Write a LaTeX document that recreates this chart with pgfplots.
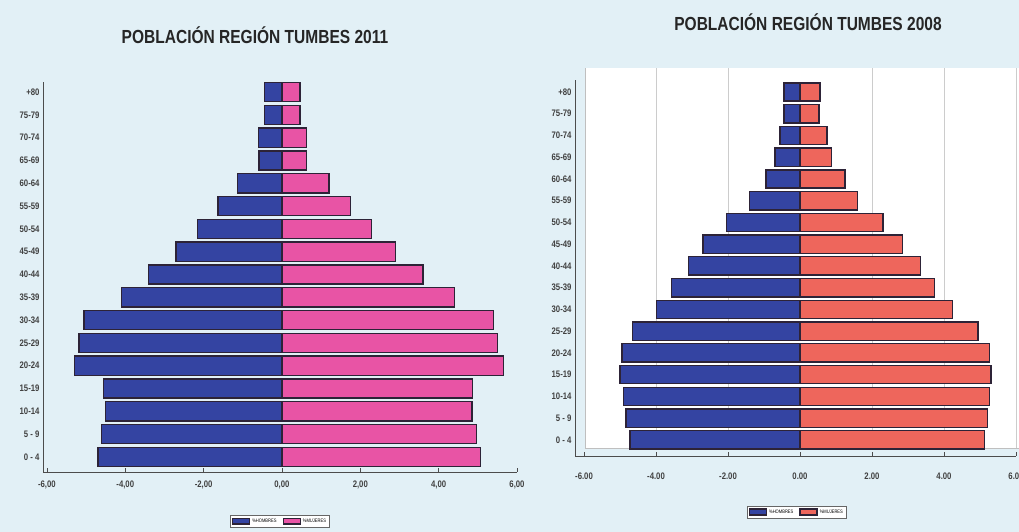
\documentclass[border=0pt]{standalone}
\usepackage{pgfplots}
\usepackage{pgfplotstable}
\pgfplotsset{compat=1.18}
\usepackage{fontspec}
\setmainfont{Liberation Sans}
\newfontfamily\narrow[FakeStretch=0.82]{Liberation Sans}

\definecolor{fondo}{RGB}{226,240,246}
\definecolor{hombre}{RGB}{52,68,162}
\definecolor{mujer11}{RGB}{232,84,165}
\definecolor{mujer08}{RGB}{238,102,92}
\definecolor{borde}{RGB}{45,35,55}

% grupos de edad: 0 = 0-4 ... 16 = +80 ; hombres en negativo
\pgfplotstableread{
g h m
0 -4.70 5.07
1 -4.60 4.97
2 -4.50 4.85
3 -4.56 4.87
4 -5.30 5.65
5 -5.18 5.50
6 -5.05 5.40
7 -4.10 4.40
8 -3.40 3.60
9 -2.70 2.90
10 -2.15 2.28
11 -1.63 1.75
12 -1.13 1.20
13 -0.59 0.62
14 -0.60 0.62
15 -0.44 0.46
16 -0.44 0.46
}\pobA

\pgfplotstableread{
g h m
0 -4.72 5.13
1 -4.83 5.20
2 -4.90 5.27
3 -5.00 5.30
4 -4.94 5.27
5 -4.66 4.94
6 -3.98 4.24
7 -3.57 3.74
8 -3.10 3.35
9 -2.70 2.85
10 -2.05 2.30
11 -1.40 1.60
12 -0.95 1.25
13 -0.70 0.88
14 -0.56 0.75
15 -0.45 0.53
16 -0.45 0.55
}\pobB

\pgfplotsset{
  piramide/.style={
    scale only axis,
    anchor=south west,
    xbar, bar shift=0pt, bar width=0.84,
    xmax=6,
    xtick={-6,-4,...,6},
    ytick={0,...,16},
    yticklabels={0 - 4,5 - 9,10-14,15-19,20-24,25-29,30-34,35-39,40-44,45-49,50-54,55-59,60-64,65-69,70-74,75-79,+80},
    axis x line*=bottom, axis y line*=left,
    axis line style={black!70, line width=0.8bp},
    tick style={black!70, line width=0.6bp},
    major tick length=4bp,
    tick align=inside,
    ytick style={draw=none},
    tick label style={font=\narrow\bfseries\fontsize{9.5}{10}\selectfont, text=black!75},
    every axis plot/.append style={draw=borde, line width=1.4bp},
    legend columns=2,
    legend cell align=left,
    area legend,
    legend style={font=\narrow\fontsize{5}{5}\selectfont, draw=black!60, fill=white,
      inner sep=1.5pt, /tikz/every even column/.append style={column sep=4pt}},
    clip=false,
  }
}

\begin{document}
\begin{tikzpicture}[x=1bp,y=1bp]
\fill[fondo] (0,0) rectangle (1019,532);
\useasboundingbox (0,0) rectangle (1019,532);

\node[font=\narrow\bfseries\fontsize{19}{19}\selectfont, text=black!85] at (255,497) {POBLACIÓN REGIÓN TUMBES 2011};
\node[font=\narrow\bfseries\fontsize{19}{19}\selectfont, text=black!85] at (808,510) {POBLACIÓN REGIÓN TUMBES 2008};

% 2011
\begin{axis}[piramide,
  at={(43bp,60bp)}, width=474bp, height=390bp,
  xmin=-6.1,
  ymin=-0.66, ymax=16.44,
  xticklabels={{-6,00},{-4,00},{-2,00},{0,00},{2,00},{4,00},{6,00}},
  xticklabel style={yshift=-5bp},
  legend style={at={(0.5,-0.126)}, anchor=center},
]
\addplot[fill=hombre] table[x=h, y=g] {\pobA};
\addplot[fill=mujer11] table[x=m, y=g] {\pobA};
\legend{\%HOMBRES, \%MUJERES}
\end{axis}

% 2008
\begin{axis}[piramide,
  at={(575bp,76bp)}, width=441bp, height=376bp,
  xmin=-6.25,
  ymin=-0.74, ymax=16.55,
  xticklabels={{-6.00},{-4.00},{-2.00},{0.00},{2.00},{4.00},{6.00}},
  xticklabel style={yshift=-13bp},
  legend style={at={(0.503,-0.149)}, anchor=center},
]
\fill[white] (axis cs:-5.97,-0.37) rectangle (axis cs:6.3,17.1);
\draw[black!25, line width=0.6bp] (axis cs:-5.97,-0.37) -- (axis cs:-5.97,17.1);
\draw[black!25, line width=0.6bp] (axis cs:-5.97,-0.37) -- (axis cs:6.3,-0.37);
\draw[black!20, line width=0.6bp] (axis cs:-4,-0.37) -- (axis cs:-4,17.1);
\draw[black!20, line width=0.6bp] (axis cs:-2,-0.37) -- (axis cs:-2,17.1);
\draw[black!20, line width=0.6bp] (axis cs:2,-0.37) -- (axis cs:2,17.1);
\draw[black!20, line width=0.6bp] (axis cs:4,-0.37) -- (axis cs:4,17.1);
\draw[black!20, line width=0.6bp] (axis cs:6,-0.37) -- (axis cs:6,17.1);
\addplot[fill=hombre] table[x=h, y=g] {\pobB};
\addplot[fill=mujer08] table[x=m, y=g] {\pobB};
\legend{\%HOMBRES, \%MUJERES}
\end{axis}
\end{tikzpicture}
\end{document}
